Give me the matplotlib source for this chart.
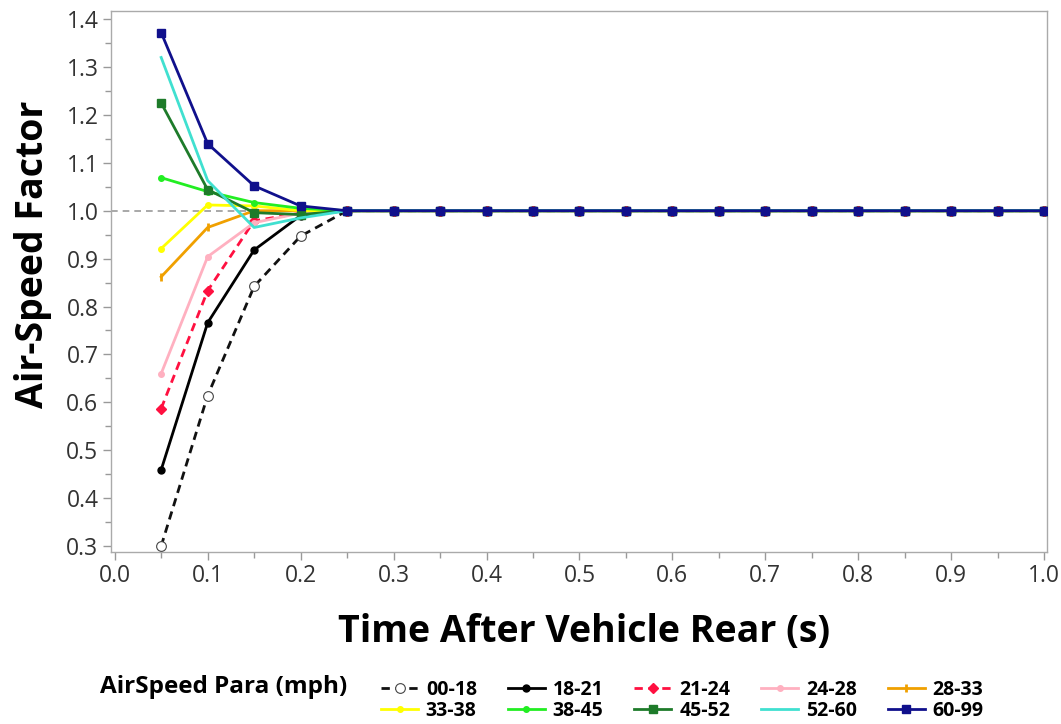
import matplotlib
matplotlib.use("Agg")
import matplotlib.pyplot as plt
from matplotlib.ticker import MultipleLocator, FormatStrFormatter

plt.rcParams['font.family'] = ['Open Sans', 'DejaVu Sans']

time_s = [0.05, 0.10, 0.15, 0.20, 0.25, 0.30, 0.35, 0.40, 0.45, 0.50,
          0.55, 0.60, 0.65, 0.70, 0.75, 0.80, 0.85, 0.90, 0.95, 1.00]

# every group sits at 1.0 from 0.25 s onward
s_00_18 = [0.300, 0.614, 0.842, 0.947, 1.0, 1.0, 1.0, 1.0, 1.0, 1.0,
           1.0, 1.0, 1.0, 1.0, 1.0, 1.0, 1.0, 1.0, 1.0, 1.0]
s_18_21 = [0.459, 0.766, 0.918, 0.990, 1.0, 1.0, 1.0, 1.0, 1.0, 1.0,
           1.0, 1.0, 1.0, 1.0, 1.0, 1.0, 1.0, 1.0, 1.0, 1.0]
s_21_24 = [0.587, 0.833, 0.979, 0.995, 1.0, 1.0, 1.0, 1.0, 1.0, 1.0,
           1.0, 1.0, 1.0, 1.0, 1.0, 1.0, 1.0, 1.0, 1.0, 1.0]
s_24_28 = [0.660, 0.904, 0.975, 0.995, 1.0, 1.0, 1.0, 1.0, 1.0, 1.0,
           1.0, 1.0, 1.0, 1.0, 1.0, 1.0, 1.0, 1.0, 1.0, 1.0]
s_28_33 = [0.862, 0.965, 1.000, 1.000, 1.0, 1.0, 1.0, 1.0, 1.0, 1.0,
           1.0, 1.0, 1.0, 1.0, 1.0, 1.0, 1.0, 1.0, 1.0, 1.0]
s_33_38 = [0.921, 1.012, 1.010, 1.000, 1.0, 1.0, 1.0, 1.0, 1.0, 1.0,
           1.0, 1.0, 1.0, 1.0, 1.0, 1.0, 1.0, 1.0, 1.0, 1.0]
s_38_45 = [1.069, 1.040, 1.017, 1.005, 1.0, 1.0, 1.0, 1.0, 1.0, 1.0,
           1.0, 1.0, 1.0, 1.0, 1.0, 1.0, 1.0, 1.0, 1.0, 1.0]
s_45_52 = [1.225, 1.044, 0.996, 0.992, 1.0, 1.0, 1.0, 1.0, 1.0, 1.0,
           1.0, 1.0, 1.0, 1.0, 1.0, 1.0, 1.0, 1.0, 1.0, 1.0]
s_52_60 = [1.320, 1.063, 0.965, 0.985, 1.0, 1.0, 1.0, 1.0, 1.0, 1.0,
           1.0, 1.0, 1.0, 1.0, 1.0, 1.0, 1.0, 1.0, 1.0, 1.0]
s_60_99 = [1.372, 1.140, 1.052, 1.010, 1.0, 1.0, 1.0, 1.0, 1.0, 1.0,
           1.0, 1.0, 1.0, 1.0, 1.0, 1.0, 1.0, 1.0, 1.0, 1.0]

labels = ["00-18", "18-21", "21-24", "24-28", "28-33",
          "33-38", "38-45", "45-52", "52-60", "60-99"]
series = [s_00_18, s_18_21, s_21_24, s_24_28, s_28_33,
          s_33_38, s_38_45, s_45_52, s_52_60, s_60_99]
colors = ["#111111", "#000000", "#ff1040", "#ffb0c0", "#f0a000",
          "#ffff00", "#22ee22", "#1e7b2a", "#40e0d0", "#10108c"]
styles = [dict(ls=(0, (3, 2)), marker="o", mfc="white", mec="#444444", ms=7, mew=0.8),
          dict(ls="-", marker="o", ms=5),
          dict(ls=(0, (3, 2)), marker="D", ms=5),
          dict(ls="-", marker="o", ms=4),
          dict(ls="-", marker="|", ms=6, mew=2),
          dict(ls="-", marker="o", ms=4),
          dict(ls="-", marker="o", ms=4),
          dict(ls="-", marker="s", ms=6),
          dict(ls="-", marker=None),
          dict(ls="-", marker="s", ms=6)]

fig = plt.figure(figsize=(10.61, 7.24), dpi=100)
ax = fig.add_axes([0.1046, 0.2376, 0.8822, 0.7472])

ax.axhline(1.0, color="#999999", lw=1.2, ls=(0, (4, 3)), zorder=1)

handles = []
for y, lab, c, st in zip(series, labels, colors, styles):
    kw = dict(color=c, lw=2, mec=c, mfc=c, zorder=3)
    kw.update(st)
    ln, = ax.plot(time_s, y, label=lab, **kw)
    handles.append(ln)

ax.set_xlim(-0.004, 1.003)
ax.set_ylim(0.2875, 1.417)
ax.xaxis.set_major_locator(MultipleLocator(0.1))
ax.xaxis.set_minor_locator(MultipleLocator(0.05))
ax.yaxis.set_major_locator(MultipleLocator(0.1))
ax.yaxis.set_minor_locator(MultipleLocator(0.05))
ax.xaxis.set_major_formatter(FormatStrFormatter("%.1f"))
ax.yaxis.set_major_formatter(FormatStrFormatter("%.1f"))
ax.tick_params(which="major", direction="out", length=6, width=1, color="#999999",
               labelsize=16.5, labelcolor="#333333", pad=3)
ax.tick_params(which="minor", direction="out", length=4, width=1, color="#999999")
for sp in ax.spines.values():
    sp.set_color("#aaaaaa")
    sp.set_linewidth(1)

ax.set_xlabel("Time After Vehicle Rear (s)", fontsize=27, fontweight="bold", va="center")
ax.set_ylabel("Air-Speed Factor", fontsize=27, fontweight="bold", va="center")
ax.xaxis.set_label_coords(0.505, -0.148)
ax.yaxis.set_label_coords(-0.083, 0.551)

order = [0, 5, 1, 6, 2, 7, 3, 8, 4, 9]
leg = fig.legend([handles[i] for i in order], [labels[i] for i in order],
                 ncol=5, loc="center left", bbox_to_anchor=(0.3463, 0.033),
                 frameon=False, handlelength=1.9, handletextpad=0.4,
                 columnspacing=1.6, labelspacing=0.05, borderpad=0.2,
                 prop=dict(size=14, weight="bold"))
fig.text(0.094, 0.051, "AirSpeed Para (mph)", fontsize=17.5, fontweight="bold",
         ha="left", va="center")

fig.savefig("out.png", dpi=100)
